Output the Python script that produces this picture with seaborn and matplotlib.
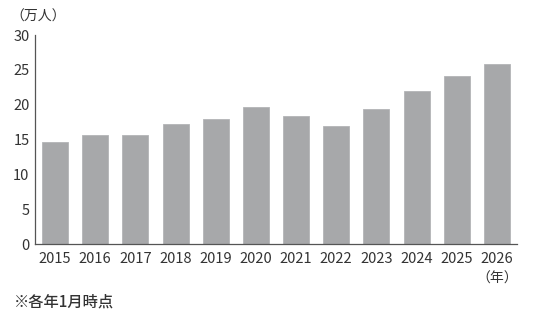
import numpy as np
import pandas as pd
import matplotlib
matplotlib.use("Agg")
import matplotlib.pyplot as plt
import seaborn as sns

# data (unit: 万人, as of January each year)
years = ["2015", "2016", "2017", "2018", "2019", "2020",
         "2021", "2022", "2023", "2024", "2025", "2026"]
values = [14.6, 15.7, 15.7, 17.2, 18.0, 19.6,
          18.4, 16.9, 19.4, 22.0, 24.1, 25.9]
yticks = [0, 5, 10, 15, 20, 25, 30]

df = pd.DataFrame({"year": years, "value": values})

sns.set_style("white")
plt.rcParams["font.family"] = ["Noto Sans CJK JP", "DejaVu Sans"]
text_color = "#333333"

fig = plt.figure(figsize=(5.4, 3.2), dpi=100)
ax = fig.add_axes([0.0648, 0.2375, 0.8926, 0.653])

sns.barplot(data=df, x="year", y="value", color="#a7a8aa", saturation=1,
            width=0.65, edgecolor="#b4b5b7", linewidth=0.6, ax=ax)

ax.set_xlim(-0.5, len(years) - 0.5)
ax.set_ylim(0, 30)
ax.set_yticks(yticks)
ax.set_xlabel("")
ax.set_ylabel("")

for side in ["top", "right"]:
    ax.spines[side].set_visible(False)
for side in ["left", "bottom"]:
    ax.spines[side].set_color("#555555")
    ax.spines[side].set_linewidth(0.9)

# y ticks point inward, x ticks sit between the bars
ax.tick_params(axis="y", direction="in", length=4, width=0.9, color="#555555",
               labelsize=10.5, labelcolor=text_color, pad=4)
ax.tick_params(axis="x", which="major", length=0, labelsize=10.5,
               labelcolor=text_color, pad=6)
ax.set_xticks(np.arange(-0.5, len(years)), minor=True)
ax.tick_params(axis="x", which="minor", direction="in", length=4, width=0.9,
               color="#555555")

fig.text(10 / 540, 1 - 17 / 320, "（万人）", fontsize=10, color=text_color,
         va="center", ha="left")
fig.text(518 / 540, 1 - 279 / 320, "（年）", fontsize=10, color=text_color,
         va="center", ha="right")
fig.text(14 / 540, 1 - 302 / 320, "※各年1月時点", fontsize=11,
         fontweight="medium", color=text_color, va="center", ha="left")

fig.savefig("out.png", dpi=100)
